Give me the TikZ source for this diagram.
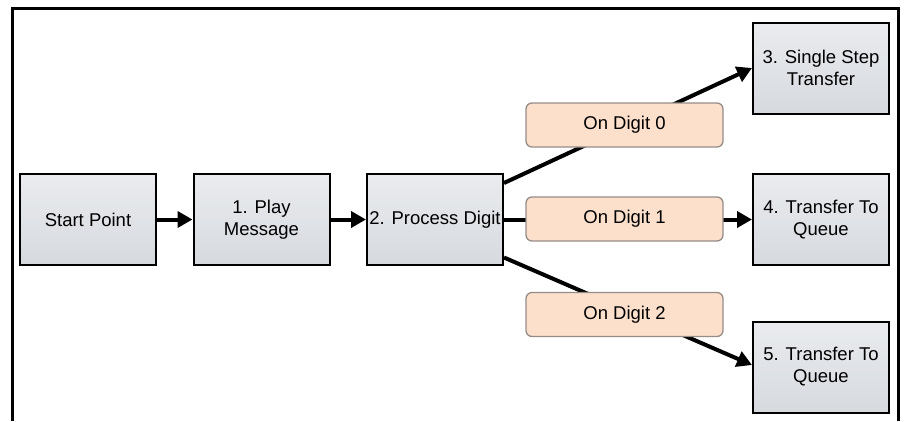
\documentclass[tikz,border=0pt]{standalone}
\usepackage{fontspec}
\setmainfont{Liberation Sans}
\usetikzlibrary{arrows.meta}
\definecolor{boxtop}{RGB}{234,236,239}
\definecolor{boxbot}{RGB}{214,217,222}
\definecolor{condfill}{RGB}{252,224,204}
\definecolor{conddraw}{RGB}{150,140,135}
\tikzset{
  box/.style={draw=black, line width=2pt, top color=boxtop, bottom color=boxbot,
    minimum width=136pt, minimum height=91pt, inner sep=0pt, align=center,
    font=\fontsize{18.5}{22}\selectfont},
  cond/.style={draw=conddraw, line width=1.3pt, fill=condfill, rounded corners=6pt,
    minimum width=197pt, minimum height=44pt, inner sep=0pt,
    font=\fontsize{18.5}{22}\selectfont},
  link/.style={line width=4pt}
}
\begin{document}
\begin{tikzpicture}[x=1pt, y=-1pt, >={Triangle[length=15pt,width=16pt]}]
\useasboundingbox (0,0) rectangle (904,421);
% frame, open at the bottom
\draw[line width=3pt] (12,421)--(12,8)--(898,8)--(898,421);
% steps
\node[box] (start) at (88,219.5) {Start Point};
\node[box] (play) at (261.5,219.5) {1. Play\\Message};
\node[box] (proc) at (435,219.5) {2. Process Digit};
\node[box] (single) at (821,68) {3. Single Step\\Transfer};
\node[box] (queue) at (821,219.5) {4. Transfer To\\Queue};
\node[box] (queueb) at (821,367) {5. Transfer To\\Queue};
\draw[link, ->] (start)--(play);
\draw[link, ->] (play)--(proc);
\draw[link, ->] ([yshift=36.5pt]proc.east)--(single.west);
\draw[link, ->] (proc.east)--(queue.west);
\draw[link, ->] ([yshift=-38pt]proc.east)--([yshift=2pt]queueb.west);
% conditions on the branches
\node[cond] (dig0) at (624.5,125) {On Digit 0};
\node[cond] (dig1) at (624.5,219) {On Digit 1};
\node[cond] (dig2) at (624.5,314.5) {On Digit 2};
\end{tikzpicture}
\end{document}
